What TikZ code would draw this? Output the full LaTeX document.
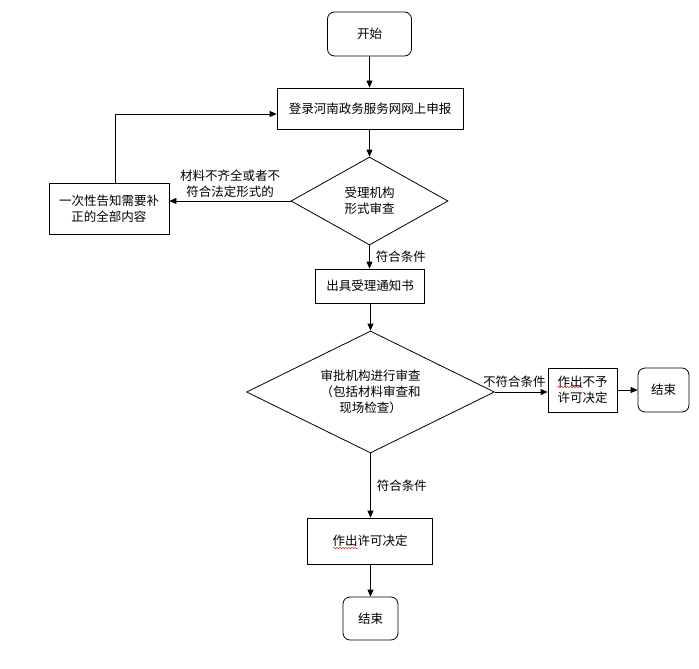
\documentclass[tikz,border=0pt]{standalone}
\usepackage{fontspec}
\setmainfont{Noto Sans CJK SC}
\usepackage{tikz}
\usetikzlibrary{arrows.meta,shapes.geometric,decorations.pathmorphing,calc}
\definecolor{spellred}{HTML}{e02828}

\begin{document}
\begin{tikzpicture}[x=1pt, y=-1pt, >={Triangle[length=7pt,width=6pt]},
  font=\fontsize{12.5}{16}\selectfont,
  procbox/.style={draw, line width=0.8pt, align=center, inner sep=0pt},
  termbox/.style={draw, line width=0.8pt, rounded corners=7pt, align=center, inner sep=0pt},
  checkbox/.style={draw, line width=0.8pt, diamond, align=center, inner sep=0pt},
  flow/.style={->, line width=0.8pt},
  flowlabel/.style={align=center, inner sep=1pt},
  wavy/.style={spellred, line width=0.5pt, decorate, decoration={snake, amplitude=0.7pt, segment length=3pt}}]
\useasboundingbox (0,0) rectangle (699,669);
\node[termbox, minimum width=84pt, minimum height=44pt] (start) at (369.5,34) {开始};
\node[procbox, minimum width=186pt, minimum height=41pt] (reg) at (370,108.5) {登录河南政务服务网网上申报};
\node[checkbox, aspect=1.8, minimum width=157pt, minimum height=88pt] (chk1) at (369.5,201) {受理机构\\形式审查};
\node[procbox, minimum width=120pt, minimum height=51pt] (fix) at (109,208.5) {一次性告知需要补\\正的全部内容};
\node[procbox, minimum width=109pt, minimum height=34pt] (notice) at (370,286) {出具受理通知书};
\node[checkbox, aspect=2, minimum width=248pt, minimum height=122pt] (chk2) at (370.5,392) {审批机构进行审查\\（包括材料审查和\\现场检查）};
\node[procbox, minimum width=69pt, minimum height=44pt] (deny) at (582.5,390) {作出不予\\许可决定};
\node[termbox, minimum width=51pt, minimum height=44pt] (endR) at (663.5,390) {结束};
\node[procbox, minimum width=125pt, minimum height=46pt] (grant) at (370,541) {作出许可决定};
\node[termbox, minimum width=55pt, minimum height=43pt] (endB) at (370.5,618.5) {结束};

\draw[flow] (start.south) -- (start.south |- reg.north);
\draw[flow] (reg.south -| chk1.north) -- (chk1.north);
\draw[flow] (chk1.west) -- node[flowlabel, midway, above=2pt] {材料不齐全或者不\\符合法定形式的} (chk1.west -| fix.east);
\draw[flow] ($(fix.north)+(6.5,0)$) |- ($(reg.west)+(0,5.5)$);
\draw[flow] (chk1.south) -- node[flowlabel, midway, right=5pt] {符合条件} (chk1.south |- notice.north);
\draw[flow] (notice.south -| chk2.north) -- (chk2.north);
\draw[flow] (chk2.east) -- node[flowlabel, midway, above=3pt, xshift=-7pt] {不符合条件} (deny.west |- chk2.east);
\draw[flow] (deny.east) -- (endR.west);
\draw[flow] (chk2.south) -- node[flowlabel, midway, right=5pt] {符合条件} (chk2.south |- grant.north);
\draw[flow] (grant.south -| endB.north) -- (endB.north);

% spell-check marks
\draw[wavy] ($(deny.center)+(-25,-3)$) -- ++(25,0);
\draw[wavy] ($(grant.center)+(-37,7)$) -- ++(25,0);
\end{tikzpicture}
\end{document}
